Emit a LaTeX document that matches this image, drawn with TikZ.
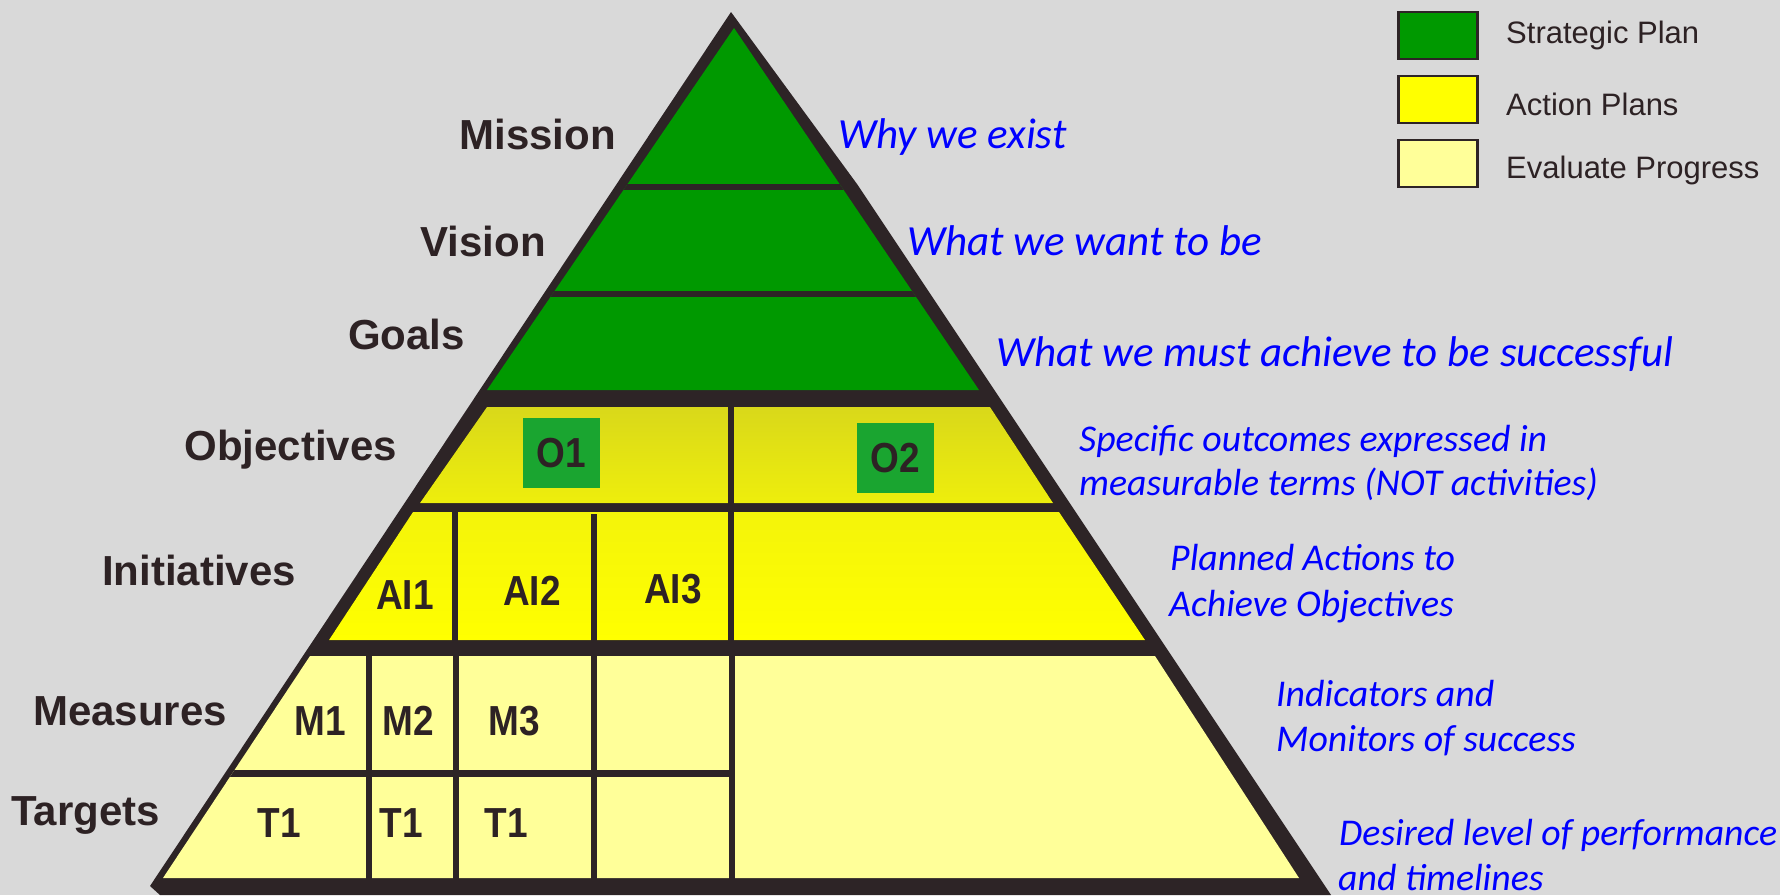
\documentclass[tikz,border=0pt]{standalone}
\usepackage{fontspec}
\setmainfont{Liberation Sans}
\newfontfamily\cellfont[FakeStretch=0.88]{Liberation Sans}
\newfontfamily\notefont{Carlito}
\definecolor{bg}{HTML}{D9D9D9}
\definecolor{edge}{HTML}{2D2426}
\definecolor{labelInk}{HTML}{2D2224}
\definecolor{planGreen}{HTML}{009900}
\definecolor{boxGreen}{HTML}{1AA530}
\definecolor{objTop}{HTML}{D9D81A}
\definecolor{objBottom}{HTML}{EEEE0C}
\definecolor{initTop}{HTML}{F4F40A}
\definecolor{actionYellow}{HTML}{FFFF00}
\definecolor{evalYellow}{HTML}{FFFF99}

\begin{document}
\begin{tikzpicture}[x=1pt,y=-1pt,
  level/.style={anchor=base east,inner sep=0pt,text=labelInk,font=\fontsize{42}{45}\selectfont\bfseries},
  note/.style={anchor=base west,inner sep=0pt,text=blue,font=\notefont\fontsize{43}{45}\selectfont\itshape},
  small note/.style={note,font=\notefont\fontsize{37.8}{45}\selectfont\itshape},
  cell/.style={anchor=base,inner sep=0pt,text=labelInk,font=\cellfont\fontsize{42}{45}\selectfont\bfseries},
  obox/.style={fill=boxGreen,minimum width=77pt,minimum height=70pt,inner sep=0pt,text=labelInk,font=\cellfont\fontsize{42}{45}\selectfont\bfseries},
  key/.style={draw=edge,line width=2.5pt,minimum width=79pt,minimum height=47pt,inner sep=0pt},
  keytext/.style={anchor=base west,inner sep=0pt,text=labelInk,font=\fontsize{31}{34}\selectfont},
  divider/.style={draw=edge,line width=5.5pt}]

\useasboundingbox (0,0) rectangle (1780,895);
\fill[bg] (0,0) rectangle (1780,895);

% pyramid
\fill[edge] (731,12) -- (857,184) -- (1331,895) -- (160,895) -- (150,886) -- cycle;
\begin{scope}
  \clip (734,28) -- (979,390) -- (487,390) -- cycle;
  \fill[planGreen] (400,0) rectangle (1100,400);
  \draw[edge,line width=6pt] (400,186.5) -- (1100,186.5);
  \draw[edge,line width=6pt] (400,293.7) -- (1100,293.7);
\end{scope}
\fill[top color=objTop,bottom color=objBottom] (487,407) -- (990,407) -- (1053,503) -- (420,503) -- cycle;
\fill[top color=initTop,bottom color=actionYellow] (413,512) -- (1059,512) -- (1145,640) -- (329,640) -- cycle;
\begin{scope}
  \clip (310,656) -- (1155,656) -- (1299,878) -- (163,878) -- cycle;
  \fill[evalYellow] (150,650) rectangle (1310,880);
  \draw[edge,line width=7pt] (150,773.5) -- (732,773.5);
\end{scope}
\draw[divider] (731,405) -- (731,505);
\foreach \x in {455,731} \draw[divider] (\x,510) -- (\x,642);
\draw[divider] (594,514) -- (594,642);
\foreach \x in {369,456,594,732} \draw[divider] (\x,654) -- (\x,880);

\node[obox] (O1) at (561,453) {O1};
\node[obox] (O2) at (895,458) {O2};
\node[cell] (AI1) at (405,609) {AI1};
\node[cell] (AI2) at (532,605) {AI2};
\node[cell] (AI3) at (673,603) {AI3};
\node[cell] (M1) at (320,735) {M1};
\node[cell] (M2) at (408,735) {M2};
\node[cell] (M3) at (514,735) {M3};
\node[cell] (T1A) at (279,837) {T1};
\node[cell] (T1B) at (401,837) {T1};
\node[cell] (T1C) at (506,837) {T1};

% levels
\node[level] (MISSION) at (616,149) {Mission};
\node[level] (VISION) at (546,256) {Vision};
\node[level] (GOALS) at (465,349) {Goals};
\node[level] (OBJECTIVES) at (397,460) {Objectives};
\node[level] (INITIATIVES) at (296,585) {Initiatives};
\node[level] (MEASURES) at (227,725) {Measures};
\node[level] (TARGETS) at (160,825) {Targets};

% notes
\node[note] (WHY) at (838,148) {Why we exist};
\node[note] (WANT) at (907,255) {What we want to be};
\node[note] (MUST) at (996,366) {What we must achieve to be successful};
\node[small note] (SPEC) at (1079,451) {Specific outcomes expressed in};
\node[small note] (TERMS) at (1079,495) {measurable terms (NOT activities)};
\node[small note] (PLANNED) at (1170,570) {Planned Actions to};
\node[small note] (ACHIEVE) at (1169,616) {Achieve Objectives};
\node[small note] (INDIC) at (1276,706) {Indicators and};
\node[small note] (MONIT) at (1276,751) {Monitors of success};
\node[small note] (DESIRED) at (1339,845) {Desired level of performance};
\node[small note] (TIMES) at (1338,890) {and timelines};

% legend
\node[key,fill=planGreen] (KEYSP) at (1438,35.5) {};
\node[key,fill=actionYellow] (KEYAP) at (1438,99.5) {};
\node[key,fill=evalYellow] (KEYEP) at (1438,163.7) {};
\node[keytext] (SP) at (1506,43) {Strategic Plan};
\node[keytext] (AP) at (1506,115) {Action Plans};
\node[keytext] (EP) at (1506,178) {Evaluate Progress};
\end{tikzpicture}
\end{document}
